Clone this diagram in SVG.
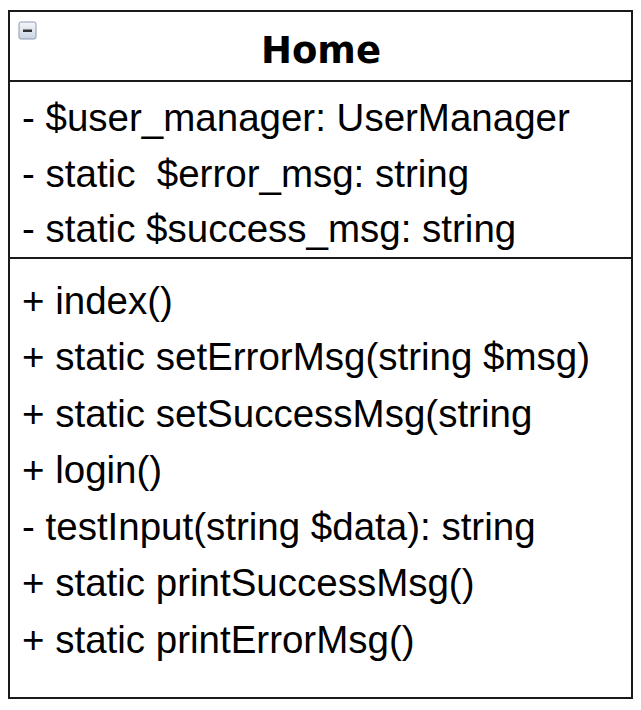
<svg xmlns="http://www.w3.org/2000/svg" width="641" height="710" viewBox="0 0 641 710">
  <defs>
    <linearGradient id="iconGrad" x1="0" y1="0" x2="0" y2="1">
      <stop offset="0" stop-color="#f4f7fb"/>
      <stop offset="1" stop-color="#c9d4e2"/>
    </linearGradient>
    <style>
      .box { fill: #ffffff; stroke: #1a1a1a; stroke-width: 2; }
      .div { stroke: #1a1a1a; stroke-width: 2; fill: none; }
      .title { font-family: "DejaVu Sans", Verdana, sans-serif; font-weight: bold; font-size: 37px; fill: #000; }
      .member { font-family: "Liberation Sans", Arial, Helvetica, sans-serif; font-size: 38.5px; fill: #000; }
    </style>
  </defs>
  <rect width="641" height="710" fill="#ffffff"/>
  <g id="class-Home">
    <rect class="box" x="9" y="11" width="623" height="687"/>
    <line class="div" x1="9" y1="81" x2="632" y2="81"/>
    <line class="div" x1="9" y1="258" x2="632" y2="258"/>
    <g id="collapse-icon">
      <rect x="19" y="22" width="17" height="17" rx="2" ry="2" fill="url(#iconGrad)" stroke="#8a9bb0" stroke-width="1"/>
      <rect x="23" y="29.5" width="9" height="2.5" fill="#333"/>
    </g>
    <text class="title" x="321" y="63" text-anchor="middle">Home</text>
    <text class="member" x="22" y="131">- $user_manager: UserManager</text>
    <text class="member" x="22" y="186.5" xml:space="preserve">- static  $error_msg: string</text>
    <text class="member" x="22" y="242">- static $success_msg: string</text>
    <text class="member" x="22" y="313.5">+ index()</text>
    <text class="member" x="22" y="370">+ static setErrorMsg(string $msg)</text>
    <text class="member" x="22" y="426.5">+ static setSuccessMsg(string</text>
    <text class="member" x="22" y="483">+ login()</text>
    <text class="member" x="22" y="539.5">- testInput(string $data): string</text>
    <text class="member" x="22" y="596">+ static printSuccessMsg()</text>
    <text class="member" x="22" y="652.5">+ static printErrorMsg()</text>
  </g>
  <g id="connectors"/>
</svg>
